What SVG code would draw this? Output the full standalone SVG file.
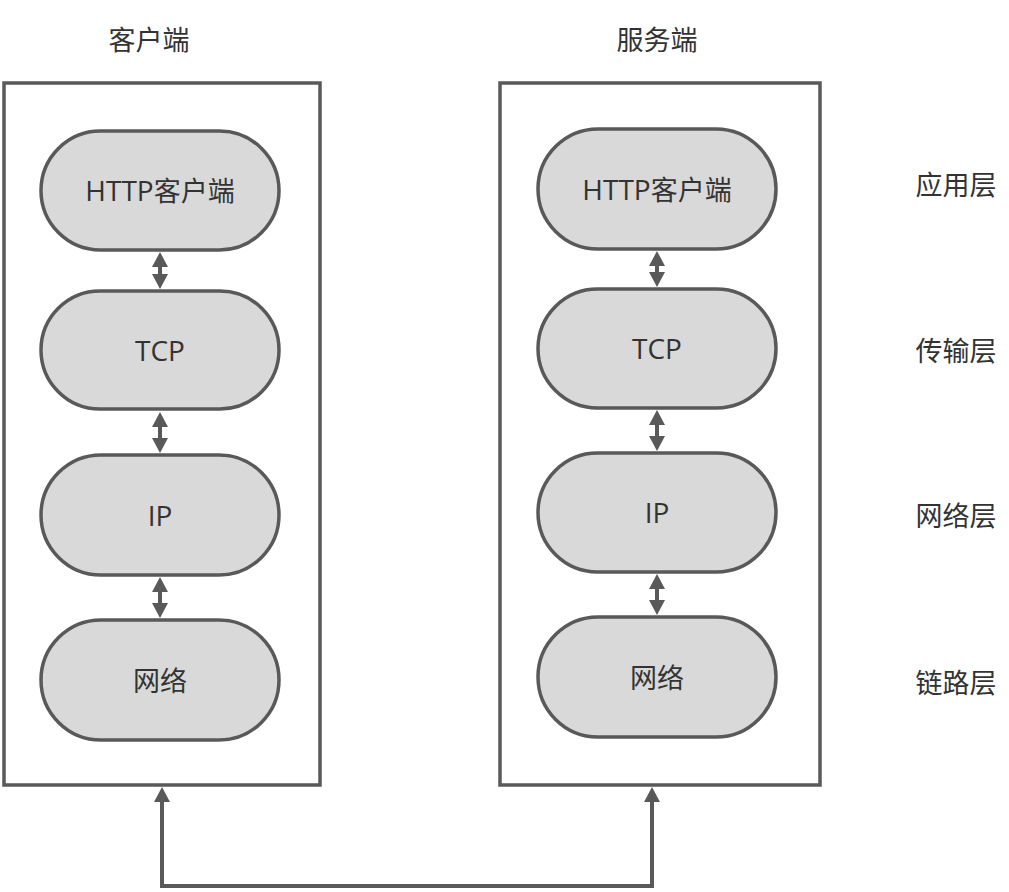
<svg xmlns="http://www.w3.org/2000/svg" width="1009" height="892" viewBox="0 0 1009 892">
<style>
.box{fill:#fff;stroke:#595959;stroke-width:3.5}
.pill{fill:#d9d9d9;stroke:#595959;stroke-width:3.5}
.t{font-family:"Open Sans","Noto Sans CJK SC",sans-serif;font-size:27px;fill:#333;text-anchor:middle;dominant-baseline:central}
.l{font-size:28px}
.c{fill:none;stroke:#595959;stroke-width:4}
</style>
<defs>
<marker id="ah" viewBox="0 0 15 16" markerUnits="userSpaceOnUse" markerWidth="15" markerHeight="16" refX="6" refY="8" orient="auto-start-reverse">
<path d="M0,0 L15,8 L0,16 z" fill="#595959"/>
</marker>
</defs>
<rect width="1009" height="892" fill="#fff"/>
<g id="client">
<rect class="box" x="4" y="83" width="316" height="702"/>
<text class="t" x="149" y="39">客户端</text>
</g>
<g id="server">
<rect class="box" x="500" y="83" width="320" height="702"/>
<text class="t" x="657" y="39">服务端</text>
</g>
<g id="c-http"><rect class="pill" x="41" y="131" width="238" height="119" rx="59.5"/><text class="t" x="160" y="190"><tspan class="l">HTTP</tspan>客户端</text></g>
<g id="c-tcp"><rect class="pill" x="41" y="291" width="238" height="118" rx="59"/><text class="t l" x="160" y="350">TCP</text></g>
<g id="c-ip"><rect class="pill" x="41" y="455" width="238" height="120" rx="60"/><text class="t l" x="160" y="515">IP</text></g>
<g id="c-net"><rect class="pill" x="41" y="620" width="238" height="120" rx="60"/><text class="t" x="160" y="680">网络</text></g>
<g id="s-http"><rect class="pill" x="538" y="129" width="238" height="120" rx="60"/><text class="t" x="657" y="189"><tspan class="l">HTTP</tspan>客户端</text></g>
<g id="s-tcp"><rect class="pill" x="538" y="289" width="238" height="119" rx="59.5"/><text class="t l" x="657" y="348">TCP</text></g>
<g id="s-ip"><rect class="pill" x="538" y="453" width="238" height="119" rx="59.5"/><text class="t l" x="657" y="512">IP</text></g>
<g id="s-net"><rect class="pill" x="538" y="617" width="238" height="120" rx="60"/><text class="t" x="657" y="677">网络</text></g>
<g id="layers">
<text class="t" x="956" y="184">应用层</text>
<text class="t" x="956" y="350">传输层</text>
<text class="t" x="956" y="515">网络层</text>
<text class="t" x="956" y="682">链路层</text>
</g>
<g id="connectors">
<line class="c" x1="160" y1="261" x2="160" y2="280" marker-start="url(#ah)" marker-end="url(#ah)"/>
<line class="c" x1="160" y1="421" x2="160" y2="444" marker-start="url(#ah)" marker-end="url(#ah)"/>
<line class="c" x1="160" y1="586" x2="160" y2="609" marker-start="url(#ah)" marker-end="url(#ah)"/>
<line class="c" x1="657" y1="260" x2="657" y2="278" marker-start="url(#ah)" marker-end="url(#ah)"/>
<line class="c" x1="657" y1="419" x2="657" y2="442" marker-start="url(#ah)" marker-end="url(#ah)"/>
<line class="c" x1="657" y1="583" x2="657" y2="606" marker-start="url(#ah)" marker-end="url(#ah)"/>
<path class="c" d="M162,796 V886 H652 V796" marker-start="url(#ah)" marker-end="url(#ah)"/>
</g>
</svg>
